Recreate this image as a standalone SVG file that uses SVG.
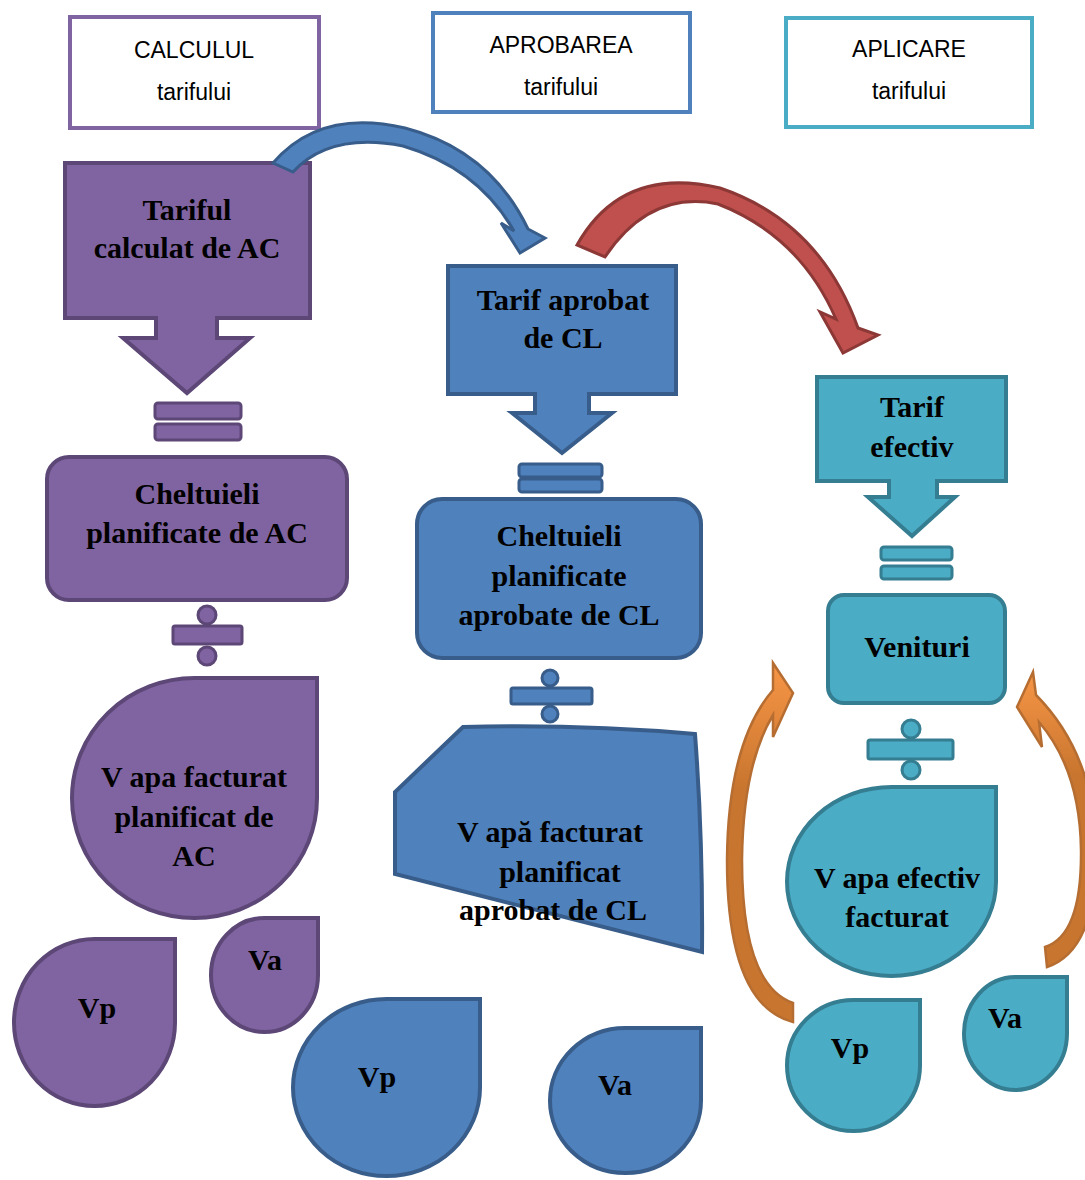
<svg xmlns="http://www.w3.org/2000/svg" width="1085" height="1180" viewBox="0 0 1085 1180">
<defs>
<style>
.hdr{fill:#fff;stroke-width:4}
.ht{font-family:"Liberation Sans",Arial,sans-serif;font-size:23px;fill:#000;text-anchor:middle}
.t{font-family:"Liberation Serif","Times New Roman",serif;font-weight:bold;font-size:30px;fill:#000;text-anchor:middle}
.pu{fill:#8064A2;stroke:#5C4776;stroke-width:4}
.bl{fill:#4F81BD;stroke:#385D8A;stroke-width:4}
.te{fill:#4BACC6;stroke:#357D91;stroke-width:4}
.sym{stroke-width:3}
.orr{stroke:#B66D31;stroke-width:2.5;stroke-linejoin:miter}
</style>
<linearGradient id="og1" x1="0" y1="1" x2="0" y2="0">
<stop offset="0" stop-color="#C8752F"/><stop offset="0.65" stop-color="#C8752F"/><stop offset="1" stop-color="#F79646"/>
</linearGradient>
</defs>

<g id="hdr-calc"><rect class="hdr" x="70" y="17" width="249" height="111" stroke="#8064A2"/><text class="ht" x="194" y="58">CALCULUL</text><text class="ht" x="194" y="100">tarifului</text></g>
<g id="hdr-aprob"><rect class="hdr" x="433" y="13" width="257" height="99" stroke="#4F81BD"/><text class="ht" x="561" y="53">APROBAREA</text><text class="ht" x="561" y="95">tarifului</text></g>
<g id="hdr-aplic"><rect class="hdr" x="786" y="18" width="246" height="109" stroke="#4BACC6"/><text class="ht" x="909" y="57">APLICARE</text><text class="ht" x="909" y="99">tarifului</text></g>

<!-- purple column -->
<g id="p-tarif"><path class="pu" d="M65,163 H310 V318 H217 V338 H250 L187,393 L123,338 H156 V318 H65 Z"/><text class="t" x="187" y="220">Tariful</text><text class="t" x="187" y="258">calculat de AC</text></g>
<g id="p-eq"><rect class="pu sym" x="155" y="403" width="86" height="16" rx="3"/><rect class="pu sym" x="155" y="424" width="86" height="16" rx="3"/></g>
<g id="p-chelt"><rect class="pu" x="47" y="457" width="300" height="143" rx="22"/><text class="t" x="197" y="504">Cheltuieli</text><text class="t" x="197" y="543">planificate de AC</text></g>
<g id="p-div"><circle class="pu sym" cx="207" cy="615" r="9"/><rect class="pu sym" x="173" y="626" width="69" height="18" rx="2"/><circle class="pu sym" cx="207" cy="656" r="9"/></g>
<g id="p-vapa"><path class="pu" d="M72,798 A122.5,120 0 0 1 194.5,678 L317,678 L317,798 A122.5,120 0 0 1 194.5,918 A122.5,120 0 0 1 72,798 Z"/><text class="t" x="194" y="787">V apa facturat</text><text class="t" x="194" y="827">planificat de</text><text class="t" x="194" y="866">AC</text></g>
<g id="p-vp"><path class="pu" d="M14,1022.5 A80.5,83.5 0 0 1 94.5,939 L175,939 L175,1022.5 A80.5,83.5 0 0 1 94.5,1106 A80.5,83.5 0 0 1 14,1022.5 Z"/><text class="t" x="97" y="1018">Vp</text></g>
<g id="p-va"><path class="pu" d="M211,975 A53.5,57 0 0 1 264.5,918 L318,918 L318,975 A53.5,57 0 0 1 264.5,1032 A53.5,57 0 0 1 211,975 Z"/><text class="t" x="265" y="970">Va</text></g>

<!-- blue column -->
<g id="b-tarif"><path class="bl" d="M448,266 H676 V394 H589 V413 H612 L562,453 L512,413 H535 V394 H448 Z"/><text class="t" x="563" y="310">Tarif aprobat</text><text class="t" x="563" y="348">de CL</text></g>
<g id="b-eq"><rect class="bl sym" x="519" y="464" width="83" height="13" rx="3"/><rect class="bl sym" x="519" y="479" width="83" height="13" rx="3"/></g>
<g id="b-chelt"><rect class="bl" x="417" y="499" width="284" height="159" rx="25"/><text class="t" x="559" y="546">Cheltuieli</text><text class="t" x="559" y="586">planificate</text><text class="t" x="559" y="625">aprobate de CL</text></g>
<g id="b-div"><circle class="bl sym" cx="550" cy="678" r="8"/><rect class="bl sym" x="511" y="688" width="81" height="16" rx="2"/><circle class="bl sym" cx="550" cy="714" r="8"/></g>
<g id="b-vapa"><path class="bl" d="M463,727 Q580,724 695,734 Q703,840 702,952 L395,874 L395,792 Z"/><text class="t" x="550" y="842">V apă facturat</text><text class="t" x="560" y="882">planificat</text><text class="t" x="553" y="920">aprobat de CL</text></g>
<g id="b-vp"><path class="bl" d="M293,1087.5 A93.5,88.5 0 0 1 386.5,999 L480,999 L480,1087.5 A93.5,88.5 0 0 1 386.5,1176 A93.5,88.5 0 0 1 293,1087.5 Z"/><text class="t" x="377" y="1087">Vp</text></g>
<g id="b-va"><path class="bl" d="M550,1100.5 A75.5,72.5 0 0 1 625.5,1028 L701,1028 L701,1100.5 A75.5,72.5 0 0 1 625.5,1173 A75.5,72.5 0 0 1 550,1100.5 Z"/><text class="t" x="615" y="1095">Va</text></g>

<!-- teal column -->
<g id="t-tarif"><path class="te" d="M817,377 H1006 V481 H937 V497 H955 L912,536 L868,497 H889 V481 H817 Z"/><text class="t" x="912" y="417">Tarif</text><text class="t" x="912" y="457">efectiv</text></g>
<g id="t-eq"><rect class="te sym" x="881" y="547" width="71" height="13" rx="3"/><rect class="te sym" x="881" y="566" width="71" height="13" rx="3"/></g>
<g id="t-ven"><rect class="te" x="828" y="595" width="177" height="108" rx="16"/><text class="t" x="917" y="657">Venituri</text></g>
<g id="t-div"><circle class="te sym" cx="911" cy="729" r="9"/><rect class="te sym" x="868" y="740" width="85" height="19" rx="2"/><circle class="te sym" cx="911" cy="770" r="9"/></g>
<g id="t-vapa"><path class="te" d="M787,881.5 A104.5,94.5 0 0 1 891.5,787 L996,787 L996,881.5 A104.5,94.5 0 0 1 891.5,976 A104.5,94.5 0 0 1 787,881.5 Z"/><text class="t" x="897" y="888">V apa efectiv</text><text class="t" x="897" y="927">facturat</text></g>
<g id="t-vp"><path class="te" d="M787,1065.5 A66.5,65.5 0 0 1 853.5,1000 L920,1000 L920,1065.5 A66.5,65.5 0 0 1 853.5,1131 A66.5,65.5 0 0 1 787,1065.5 Z"/><text class="t" x="850" y="1058">Vp</text></g>
<g id="t-va"><path class="te" d="M964,1033.5 A51.5,56.5 0 0 1 1015.5,977 L1067,977 L1067,1033.5 A51.5,56.5 0 0 1 1015.5,1090 A51.5,56.5 0 0 1 964,1033.5 Z"/><text class="t" x="1005" y="1028">Va</text></g>

<!-- connectors -->
<g id="connectors">
<path d="M273,163 Q320,108 405,128 Q490,150 528,229 L545,238 L520,253 L501,223 L514,231 Q478,168 403,146 Q330,132 293,172 Z" fill="#4F81BD" stroke="#385D8A" stroke-width="3"/>
<path d="M577,245 Q622,165 720,188 Q820,222 858,328 L878,335 L843,353 L820,312 L836,319 Q800,236 718,204 Q650,190 605,257 Z" fill="#C0504D" stroke="#8C3836" stroke-width="3"/>
<path class="orr" fill="url(#og1)" d="M793,1022 Q727,1005 727,860 Q728,742 773,690 L773,663 L793,693 L773,737 L773,715 Q743,765 742,860 Q742,985 793,1003 Z"/>
<path class="orr" fill="url(#og1)" d="M1045,947 Q1082,935 1081,850 Q1080,770 1039,722 L1042,747 L1017,707 L1033,672 L1036,695 Q1095,755 1096,850 Q1097,950 1047,967 Z"/>
</g>
</svg>
